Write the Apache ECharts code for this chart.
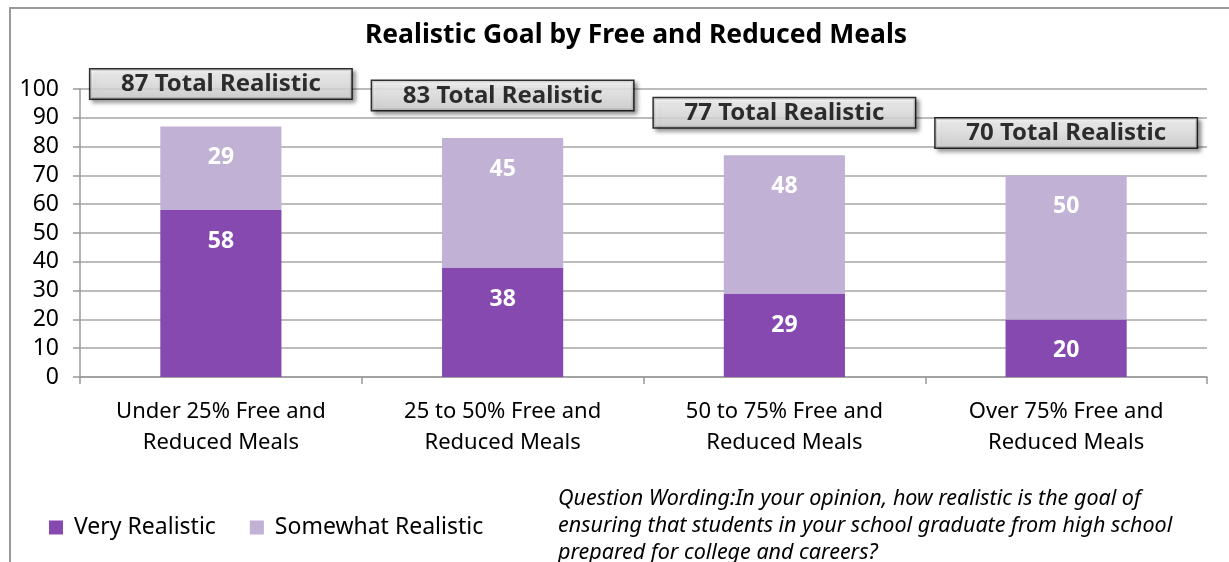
<!DOCTYPE html>
<html>
<head>
<meta charset="utf-8">
<script src="https://cdn.jsdelivr.net/npm/echarts@6/dist/echarts.min.js"></script>
<style>
  html, body { margin: 0; padding: 0; background: #fff; }
  #main { width: 1229px; height: 562px; }
</style>
</head>
<body>
<div id="main"></div>
<script>
// 数据
var categories = ['Under 25% Free and\nReduced Meals', '25 to 50% Free and\nReduced Meals', '50 to 75% Free and\nReduced Meals', 'Over 75% Free and\nReduced Meals'];
var veryRealistic = [58, 38, 29, 20];
var somewhatRealistic = [29, 45, 48, 50];
var totalRealistic = [87, 83, 77, 70];
var yTicks = [0, 10, 20, 30, 40, 50, 60, 70, 80, 90, 100];

var fontFam = '"Noto Sans", "Open Sans", sans-serif';
var myChart = echarts.init(document.getElementById('main'));

var option = {
    animation: false,
    title: {
        text: 'Realistic Goal by Free and Reduced Meals',
        left: 631,
        textAlign: 'center',
        top: 17,
        textStyle: { fontFamily: fontFam, fontSize: 26.5, fontWeight: 'bold', color: '#000' }
    },
    legend: {
        data: ['Very Realistic', 'Somewhat Realistic'],
        left: 44,
        top: 511,
        itemWidth: 14,
        itemHeight: 14,
        itemGap: 34,
        icon: 'rect',
        textStyle: { fontFamily: fontFam, fontSize: 23, color: '#000', padding: [0, 0, 0, 6] }
    },
    grid: { left: 80, right: 22, top: 89, bottom: 185 },
    xAxis: {
        type: 'category',
        data: categories,
        axisLine: { lineStyle: { color: '#999', width: 1.5 } },
        axisTick: { show: true, length: 7, lineStyle: { color: '#999', width: 1.5 } },
        axisLabel: { fontFamily: fontFam, fontSize: 22, color: '#000', lineHeight: 31, margin: 19 }
    },
    yAxis: {
        type: 'value',
        min: 0,
        max: 100,
        interval: 10,
        axisLine: { show: true, lineStyle: { color: '#999', width: 1.5 } },
        axisTick: { show: true, length: 7, lineStyle: { color: '#999', width: 1.5 } },
        splitLine: { lineStyle: { color: '#a6a6a6', width: 1.5 } },
        axisLabel: {
            fontFamily: fontFam, fontSize: 23, color: '#000', margin: 21,
            formatter: function (v) { return yTicks.indexOf(v) >= 0 ? String(v) : ''; }
        }
    },
    graphic: [
        { type: 'line', shape: { x1: 9, y1: 8, x2: 1229, y2: 8 }, style: { stroke: '#999', lineWidth: 2 } },
        { type: 'line', shape: { x1: 10, y1: 8, x2: 10, y2: 562 }, style: { stroke: '#999', lineWidth: 2 } },
        {
            type: 'text', left: 558, top: 485,
            style: {
                text: 'Question Wording:In your opinion, how realistic is the goal of\nensuring that students in your school graduate from high school\nprepared for college and careers?',
                fontFamily: fontFam, fontSize: 21.5, fontStyle: 'italic', fill: '#000', lineHeight: 27
            }
        }
    ],
    series: [
        {
            name: 'Very Realistic',
            type: 'bar',
            stack: 'total',
            barWidth: '43%',
            data: veryRealistic,
            itemStyle: { color: '#8549B0' },
            label: {
                show: true, position: 'insideTop', distance: 20,
                fontFamily: fontFam, fontSize: 23, fontWeight: 'bold', color: '#fff'
            }
        },
        {
            name: 'Somewhat Realistic',
            type: 'bar',
            stack: 'total',
            data: somewhatRealistic,
            itemStyle: { color: '#C0B1D5' },
            label: {
                show: true, position: 'insideTop', distance: 20,
                fontFamily: fontFam, fontSize: 23, fontWeight: 'bold', color: '#fff'
            }
        },
        {
            name: 'Total',
            type: 'scatter',
            data: totalRealistic,
            symbolSize: 0,
            silent: true,
            z: 5,
            label: {
                show: true,
                position: 'top',
                distance: 28,
                formatter: function (p) { return p.value + ' Total Realistic'; },
                fontFamily: fontFam, fontSize: 24, fontWeight: 'bold', color: '#000',
                width: 233, align: 'center',
                padding: [3, 14, 2, 14],
                backgroundColor: new echarts.graphic.LinearGradient(0, 0, 0, 1, [
                    { offset: 0, color: '#ffffff' },
                    { offset: 1, color: '#d6d6d6' }
                ]),
                borderColor: '#000',
                borderWidth: 1.5,
                shadowColor: 'rgba(0,0,0,0.45)',
                shadowBlur: 4,
                shadowOffsetX: 3,
                shadowOffsetY: 3
            }
        }
    ]
};
myChart.setOption(option);
</script>
</body>
</html>
